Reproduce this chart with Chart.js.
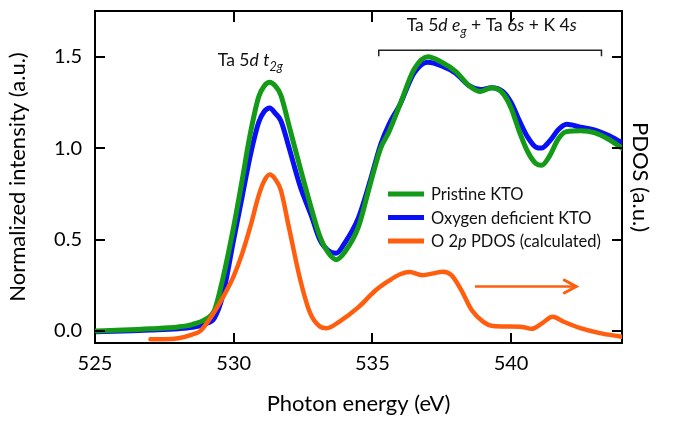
<!DOCTYPE html>
<html>
<head>
<meta charset="utf-8">
<script src="https://cdn.jsdelivr.net/npm/chart.js@4.4.1/dist/chart.umd.min.js"></script>
<style>
  html, body { margin: 0; padding: 0; background: #fff; }
  #wrap { width: 675px; height: 423px; }
</style>
</head>
<body>
<div id="wrap"><canvas id="xas"></canvas></div>
<script>
// photon energy (eV) for the measured spectra
const energy = [525, 526, 527, 528, 528.5, 529, 529.3, 529.6, 530, 530.3, 530.6, 530.9, 531.1, 531.3, 531.5,
  531.7, 532, 532.4, 532.8, 533.1, 533.4, 533.7, 534, 534.5, 534.9, 535.3, 535.6, 536, 536.5, 537,
  537.5, 538, 538.5, 538.9, 539.3, 539.7, 540, 540.3, 540.6, 540.9, 541.1, 541.4, 541.7, 542, 542.5,
  543, 543.5, 544];
const pristine = [0.0, 0.005, 0.012, 0.022, 0.035, 0.065, 0.11, 0.28, 0.57, 0.82, 1.08, 1.28, 1.34, 1.36, 1.34,
  1.29, 1.12, 0.89, 0.67, 0.52, 0.43, 0.39, 0.43, 0.57, 0.79, 1.00, 1.09, 1.24, 1.43, 1.50,
  1.47, 1.42, 1.34, 1.31, 1.33, 1.30, 1.22, 1.09, 0.98, 0.915, 0.906, 0.96, 1.05, 1.09, 1.095,
  1.085, 1.05, 1.00];
const deficient = [-0.005, 0.0, 0.005, 0.012, 0.02, 0.04, 0.07, 0.19, 0.50, 0.73, 0.96, 1.14, 1.20, 1.22, 1.19,
  1.15, 1.00, 0.79, 0.63, 0.50, 0.44, 0.425, 0.48, 0.62, 0.81, 1.02, 1.13, 1.24, 1.41, 1.47,
  1.45, 1.41, 1.34, 1.32, 1.33, 1.31, 1.25, 1.15, 1.06, 1.005, 1.00, 1.04, 1.10, 1.13, 1.115,
  1.10, 1.07, 1.03];
// calculated O 2p PDOS
const pdosEnergy = [527, 527.5, 528, 528.5, 528.8, 529.2, 529.6, 530, 530.3, 530.6, 530.9, 531.1, 531.3, 531.5,
  531.7, 532, 532.4, 532.75, 533.1, 533.35, 533.8, 534.5, 535.1, 535.6, 536.0, 536.35, 536.8, 537.2,
  537.55, 537.85, 538.2, 538.6, 539, 539.35, 539.9, 540.4, 540.75, 541.1, 541.5, 541.9, 542.5, 543.2, 544];
const pdos = [-0.045, -0.045, -0.04, -0.02, 0.0, 0.08, 0.18, 0.30, 0.42, 0.57, 0.74, 0.82, 0.855, 0.83,
  0.77, 0.56, 0.28, 0.10, 0.025, 0.015, 0.05, 0.13, 0.22, 0.275, 0.31, 0.322, 0.305, 0.315,
  0.324, 0.305, 0.225, 0.11, 0.05, 0.027, 0.024, 0.022, 0.012, 0.04, 0.078, 0.05, 0.015, -0.012, -0.032];

const seriesNames = ["Pristine KTO", "Oxygen deficient KTO", "O 2{p} PDOS (calculated)"];
const xTicks = [525, 530, 535, 540];
const yTicks = [0, 0.5, 1.0, 1.5];

// annotations in data coordinates; {} = italic, [] = italic subscript
const t2gLabel = { text: "Ta 5{d} {t}[2g]", x: 530.6, y: 1.45 };
const egLabel = { text: "Ta 5{d} {e}[g] + Ta 6{s} + K 4{s}", x: 539.3, y: 1.64 };
const egBracket = { from: 535.23, to: 543.26, y: 1.535 };
const pdosArrow = { from: 538.7, to: 542.35, y: 0.243 };

const GREEN = "#139a16";
const BLUE = "#0a10f5";
const ORANGE = "#ff5e0e";
const FONT = "Lato";

Chart.defaults.color = "#000";
Chart.defaults.font.family = FONT;

function runs(str) {
  const out = [];
  let it = false, sub = false, buf = "";
  const push = () => { if (buf) out.push({ t: buf, it: it || sub, sub }); buf = ""; };
  for (const c of str) {
    if (c === "{") { push(); it = true; }
    else if (c === "}") { push(); it = false; }
    else if (c === "[") { push(); sub = true; }
    else if (c === "]") { push(); sub = false; }
    else buf += c;
  }
  push();
  return out;
}

function drawRich(ctx, str, x, y, size, align) {
  const parts = runs(str);
  const fontOf = p => (p.it ? "italic " : "") + (p.sub ? size * 0.72 : size) + "px " + FONT;
  let w = 0;
  parts.forEach(p => { ctx.font = fontOf(p); p.w = ctx.measureText(p.t).width; w += p.w; });
  let cx = align === "center" ? x - w / 2 : x;
  ctx.textBaseline = "alphabetic";
  ctx.textAlign = "left";
  parts.forEach(p => {
    ctx.font = fontOf(p);
    ctx.fillText(p.t, cx, p.sub ? y + size * 0.3 : y);
    cx += p.w;
  });
}

const overlay = {
  id: "overlay",
  afterDraw(chart) {
    const { ctx, chartArea: a, scales } = chart;
    const x = scales.x, y = scales.y;
    ctx.save();
    ctx.strokeStyle = "#000";
    ctx.lineWidth = 2;
    ctx.beginPath();
    xTicks.forEach(v => {
      const px = Math.round(x.getPixelForValue(v));
      ctx.moveTo(px, a.bottom); ctx.lineTo(px, a.bottom - 10);
      ctx.moveTo(px, a.top); ctx.lineTo(px, a.top + 11);
    });
    yTicks.forEach(v => {
      const py = Math.round(y.getPixelForValue(v));
      ctx.moveTo(a.left, py); ctx.lineTo(a.left + 10, py);
      ctx.moveTo(a.right, py); ctx.lineTo(a.right - 10, py);
    });
    ctx.stroke();

    // bracket over the e_g region
    const bx1 = x.getPixelForValue(egBracket.from), bx2 = x.getPixelForValue(egBracket.to);
    const by = y.getPixelForValue(egBracket.y);
    ctx.lineWidth = 1.5;
    ctx.strokeStyle = "#222";
    ctx.beginPath();
    ctx.moveTo(bx1, by + 6); ctx.lineTo(bx1, by); ctx.lineTo(bx2, by); ctx.lineTo(bx2, by + 6);
    ctx.stroke();

    ctx.fillStyle = "#111";
    drawRich(ctx, t2gLabel.text, x.getPixelForValue(t2gLabel.x), y.getPixelForValue(t2gLabel.y), 17.5, "center");
    drawRich(ctx, egLabel.text, x.getPixelForValue(egLabel.x), y.getPixelForValue(egLabel.y), 17.5, "center");

    // arrow pointing to the PDOS axis
    const ax1 = x.getPixelForValue(pdosArrow.from), ax2 = x.getPixelForValue(pdosArrow.to);
    const ay = y.getPixelForValue(pdosArrow.y);
    ctx.strokeStyle = ORANGE;
    ctx.lineWidth = 2.5;
    ctx.lineCap = "butt";
    ctx.beginPath();
    ctx.moveTo(ax1, ay); ctx.lineTo(ax2 - 2, ay);
    ctx.stroke();
    ctx.lineWidth = 3;
    ctx.beginPath();
    ctx.moveTo(ax2 - 13, ay - 7); ctx.lineTo(ax2, ay); ctx.lineTo(ax2 - 13, ay + 7);
    ctx.stroke();

    // legend
    const colors = [GREEN, BLUE, ORANGE];
    seriesNames.forEach((name, i) => {
      const ly = 194 + i * 23.5;
      ctx.strokeStyle = colors[i];
      ctx.lineWidth = 5;
      ctx.beginPath();
      ctx.moveTo(388, ly); ctx.lineTo(424, ly);
      ctx.stroke();
      ctx.fillStyle = "#111";
      drawRich(ctx, name, 431, ly + 6, 16.5, "left");
    });
    ctx.restore();
  }
};

const toXY = (xs, ys) => xs.map((v, i) => ({ x: v, y: ys[i] }));

new Chart(document.getElementById("xas"), {
  type: "line",
  data: {
    datasets: [
      { label: seriesNames[2], data: toXY(pdosEnergy, pdos), borderColor: ORANGE, borderWidth: 4.5, yAxisID: "y2", order: 0 },
      { label: seriesNames[0], data: toXY(energy, pristine), borderColor: GREEN, borderWidth: 5, yAxisID: "y", order: 1 },
      { label: seriesNames[1], data: toXY(energy, deficient), borderColor: BLUE, borderWidth: 5, yAxisID: "y", order: 2 }
    ]
  },
  options: {
    responsive: true,
    maintainAspectRatio: false,
    animation: false,
    layout: { padding: 0 },
    elements: { point: { radius: 0 }, line: { tension: 0.4, cubicInterpolationMode: "monotone", borderCapStyle: "round", borderJoinStyle: "round" } },
    plugins: { legend: { display: false }, tooltip: { enabled: false } },
    scales: {
      x: {
        type: "linear", position: "bottom", min: 525, max: 544,
        afterBuildTicks: s => { s.ticks = xTicks.map(v => ({ value: v })); },
        afterFit: s => { s.height = 80; s.paddingLeft = 0; s.paddingRight = 0; },
        grid: { display: false, drawTicks: false },
        border: { display: true, color: "#000", width: 2 },
        ticks: { padding: 9, font: { size: 20 }, callback: v => String(v) },
        title: { display: true, text: "Photon energy (eV)", font: { size: 22 }, padding: { top: 0, bottom: 6 } }
      },
      x2: {
        type: "linear", position: "top", min: 525, max: 544,
        afterFit: s => { s.height = 11; s.paddingLeft = 0; s.paddingRight = 0; },
        grid: { display: false, drawTicks: false },
        border: { display: true, color: "#000", width: 2 },
        ticks: { display: false }
      },
      y: {
        position: "left", min: -0.066, max: 1.75,
        afterBuildTicks: s => { s.ticks = yTicks.map(v => ({ value: v })); },
        afterFit: s => { s.width = 95; s.paddingTop = 0; s.paddingBottom = 0; },
        grid: { display: false, drawTicks: false },
        border: { display: true, color: "#000", width: 2 },
        ticks: { padding: 13, font: { size: 20 }, callback: v => v.toFixed(1) },
        title: { display: true, text: "Normalized intensity (a.u.)", font: { size: 22 }, padding: { top: 5, bottom: 0 } }
      },
      y2: {
        position: "right", min: -0.066, max: 1.75,
        afterBuildTicks: s => { s.ticks = yTicks.map(v => ({ value: v })); },
        afterFit: s => { s.width = 53; s.paddingTop = 0; s.paddingBottom = 0; },
        grid: { display: false, drawTicks: false },
        border: { display: true, color: "#000", width: 2 },
        ticks: { display: false },
        title: { display: true, text: "PDOS (a.u.)", font: { size: 22 }, padding: { top: 22, bottom: 0 } }
      }
    }
  },
  plugins: [overlay]
});
</script>
</body>
</html>
